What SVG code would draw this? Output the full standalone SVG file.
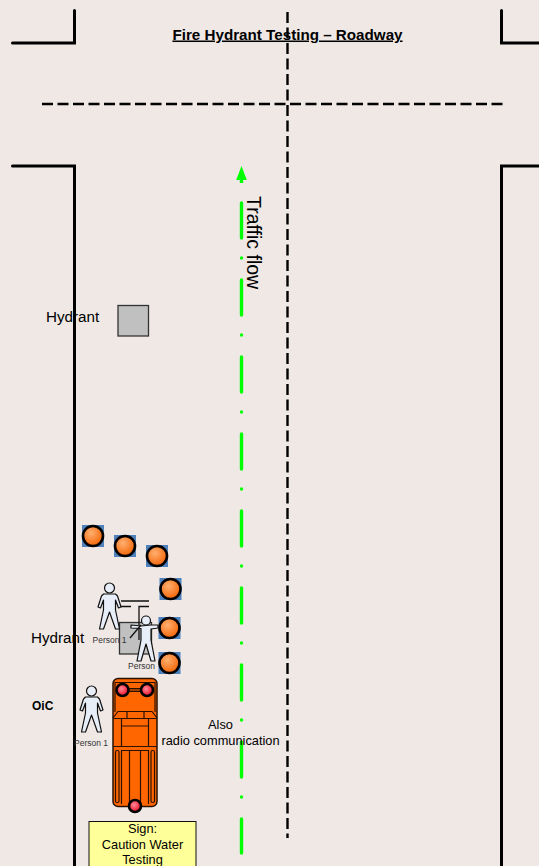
<svg xmlns="http://www.w3.org/2000/svg" width="539" height="866" viewBox="0 0 539 866">
<style>
.road{fill:none;stroke:#000;stroke-width:3;stroke-linecap:round;stroke-linejoin:miter}
.dash{fill:none;stroke:#000;stroke-width:2.4;stroke-dasharray:11 4.5}
.green{fill:none;stroke:#00ff00;stroke-width:3.400;stroke-linecap:round}
.t{font-family:"Liberation Sans",Arial,sans-serif;fill:#000}
.hyd{fill:#c0c0c0;stroke:#333;stroke-width:1.300}
.small{font-size:8.500px;fill:#333}
.p{fill:#e8eef8;stroke:#111;stroke-width:1.200;stroke-linejoin:round}
.tk{fill:none;stroke:#2a1200;stroke-width:1.200}
.lamp{fill:url(#red);stroke:#000;stroke-width:2.600}
.pl{fill:none;stroke:#111;stroke-width:1.300}
</style>
<defs>
<radialGradient id="or" cx="0.4" cy="0.35" r="0.7"><stop offset="0" stop-color="#ffb070"/><stop offset="1" stop-color="#f46000"/></radialGradient>
<radialGradient id="red" cx="0.42" cy="0.4" r="0.65"><stop offset="0" stop-color="#ff8a9a"/><stop offset="1" stop-color="#f0001c"/></radialGradient>
<g id="cone"><rect x="-11" y="-11" width="22" height="22" fill="#4f81bd"/><circle r="10" fill="url(#or)" stroke="#000" stroke-width="2.600"/></g>
<g id="man"><circle cx="0" cy="5" r="5" class="p"/><path class="p" d="M-6 11H6L8 13L11.500 24L9 25L6 17L6 27L10 46H6L0 29L-6 46H-10L-6 27L-6 17L-9 25L-11.500 24L-8 13Z"/></g>
</defs>
<rect width="539" height="866" fill="#efe8e5"/>
<g id="connectors">
<path class="road" d="M12.500 43H74.500V10.500"/>
<path class="road" d="M12.500 166H74.500V866"/>
<path class="road" d="M501.500 10.500V43H539"/>
<path class="road" d="M539 166H501.500V866"/>
<path class="dash" d="M42 104H503"/>
<path class="dash" d="M287.500 12V838"/>
<path class="green" d="M241.500 203V238M241.500 258V258.100M241.500 280V315M241.500 335V335.100M241.500 357V392M241.500 412V412.100M241.500 434V469M241.500 489V489.100M241.500 511V546M241.500 566V566.100M241.500 588V623M241.500 643V643.100M241.500 665V700M241.500 720V720.100M241.500 742V777M241.500 797V797.100M241.500 819V853"/>
<path fill="#00ff00" d="M241.500 166L246.800 180H243.200V183H239.800V180H236.200Z"/>
</g>
<text class="t" x="287.500" y="39.500" text-anchor="middle" font-size="15.200" font-weight="bold" text-decoration="underline">Fire Hydrant Testing – Roadway</text>
<g id="traffic-flow"><text class="t" transform="translate(247 196) rotate(90)" font-size="19.500">Traffic flow</text></g>
<g id="hydrant-1"><rect class="hyd" x="118" y="305.500" width="30.500" height="30.500"/><text class="t" x="46" y="322" font-size="15.200">Hydrant</text></g>
<g id="hydrant-2"><rect class="hyd" x="119.500" y="622.500" width="32" height="31.500"/><text class="t" x="31" y="643" font-size="15.200">Hydrant</text></g>
<g id="cone-1"><use href="#cone" x="93" y="536"/></g>
<g id="cone-2"><use href="#cone" x="125" y="546"/></g>
<g id="cone-3"><use href="#cone" x="157" y="556"/></g>
<g id="cone-4"><use href="#cone" x="170.500" y="589"/></g>
<g id="cone-5"><use href="#cone" x="169.500" y="628"/></g>
<g id="cone-6"><use href="#cone" x="169.500" y="663"/></g>
<g id="person-1"><use href="#man" x="109.500" y="583"/><path class="pl" d="M121 601H149M121 606.500H131"/><text class="t small" x="92.500" y="643">Person 1</text></g>
<g id="person-2"><path class="pl" d="M139 640V606.500H149"/><circle class="p" cx="146" cy="620.500" r="4.500"/><path class="p" d="M141 626L131 625V628L141 628.500V640L137 661H141L146 644L151 661H155L151 640V629L158 628V625L151 625Z"/><path class="pl" d="M130 638L141 625"/><text class="t small" x="128" y="669">Person</text></g>
<g id="oic"><use href="#man" x="91.500" y="686"/><text class="t small" x="74" y="746">Person 1</text><text class="t" x="32" y="710" font-size="12" font-weight="bold">OiC</text></g>
<g id="truck">
<rect x="113" y="678.500" width="44" height="128" rx="5" fill="#ff6600" stroke="#2a1200" stroke-width="1.500"/>
<path class="tk" d="M115 712V682.500H155V712M113 718L118 711.500H152L157 718M113 718.500H157M127 711.500V718.500M144 711.500V718.500M121.500 718.500V746.500M148.500 718.500V746.500M121.500 726H148.500M113 746.500H157"/>
<path class="tk" d="M121.500 804V750.500H148.500V804M129.500 750.500V804M140.500 750.500V804"/>
<rect class="tk" x="115.500" y="750.500" width="3.500" height="52" rx="1.500"/>
<rect class="tk" x="151" y="750.500" width="3.500" height="52" rx="1.500"/>
<rect x="128" y="688.500" width="14" height="3" fill="#a04000" stroke="#2a1200"/>
<circle class="lamp" cx="122.500" cy="690" r="6"/>
<circle class="lamp" cx="147" cy="690" r="6"/>
<circle class="lamp" cx="135" cy="806" r="6"/>
</g>
<g id="radio-note"><text class="t" x="220.500" y="729" text-anchor="middle" font-size="12.800">Also</text><text class="t" x="220.500" y="745" text-anchor="middle" font-size="12.800">radio communication</text></g>
<g id="sign"><rect x="89" y="821.500" width="107" height="50" fill="#ffff99" stroke="#111" stroke-width="1"/><text class="t" text-anchor="middle" font-size="12.800" x="142.500" y="833">Sign:</text><text class="t" text-anchor="middle" font-size="12.800" x="142.500" y="849">Caution Water</text><text class="t" text-anchor="middle" font-size="12.800" x="142.500" y="864">Testing</text></g>
</svg>
